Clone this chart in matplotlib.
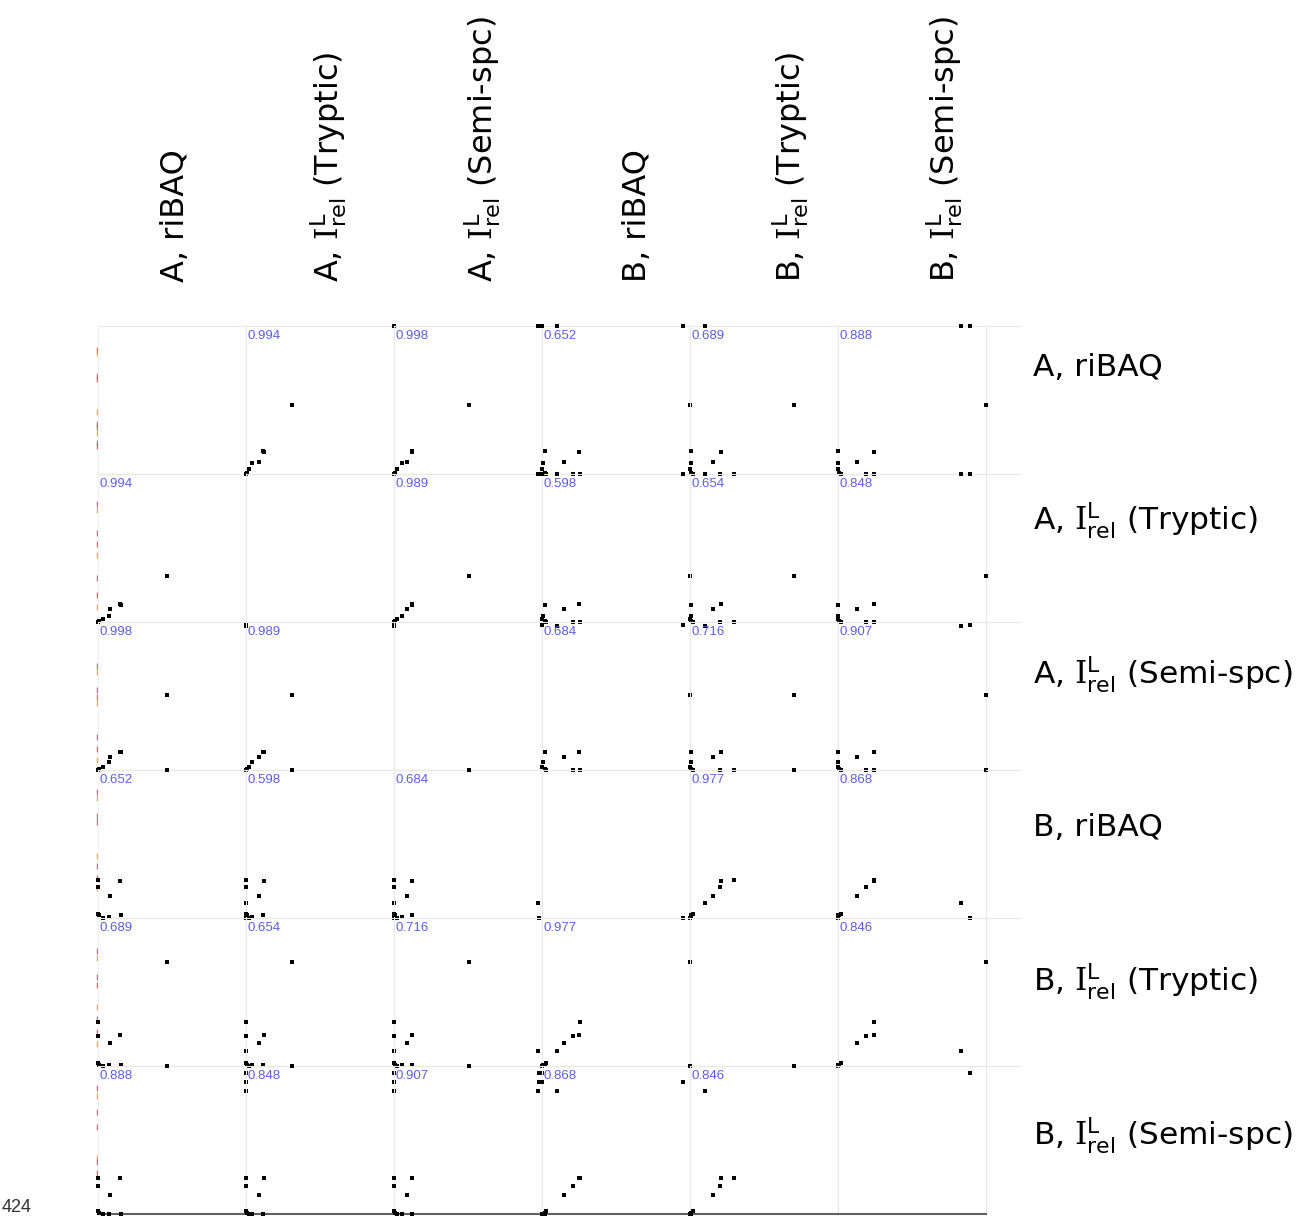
import numpy as np
import matplotlib
matplotlib.use('Agg')
import matplotlib.pyplot as plt
from matplotlib.lines import Line2D

plt.rcParams['mathtext.fontset'] = 'dejavuserif'

# nombres de las variables (filas y columnas de la matriz)
etiquetas = [
    r'A, riBAQ',
    r'A, $\mathrm{I}^{\mathsf{L}}_{\mathsf{rel}}$ (Tryptic)',
    r'A, $\mathrm{I}^{\mathsf{L}}_{\mathsf{rel}}$ (Semi-spc)',
    r'B, riBAQ',
    r'B, $\mathrm{I}^{\mathsf{L}}_{\mathsf{rel}}$ (Tryptic)',
    r'B, $\mathrm{I}^{\mathsf{L}}_{\mathsf{rel}}$ (Semi-spc)',
]

# valores normalizados (0-1) por proteina
a_ribaq = [1.00, 1.00, 0.466, 0.155, 0.074, 0.034, 0.010, 0.000, 0.080, 0.000, 0.150, 0.000]
a_tryp = [1.00, 1.00, 0.310, 0.115, 0.040, 0.020, 0.007, 0.000, 0.088, 0.000, 0.120, 0.000]
a_semi = [0.98, 0.97, 0.510, 0.120, 0.054, 0.020, 0.008, 0.000, 0.090, 0.000, 0.120, 0.000]
b_ribaq = [0.00, 0.10, 1.000, 0.020, 0.010, 0.000, 0.020, 0.030, 0.150, 0.210, 0.250, 0.260]
b_tryp = [-0.05, 0.10, 0.700, 0.010, 0.010, 0.000, 0.010, 0.020, 0.155, 0.200, 0.210, 0.300]
b_semi = [0.89, 0.83, 1.000, 0.000, 0.000, 0.000, 0.010, 0.020, 0.130, 0.190, 0.240, 0.240]

datos = [a_ribaq, a_tryp, a_semi, b_ribaq, b_tryp, b_semi]

# coeficientes de correlacion mostrados en cada celda
corr = [
    [None, 0.994, 0.998, 0.652, 0.689, 0.888],
    [0.994, None, 0.989, 0.598, 0.654, 0.848],
    [0.998, 0.989, None, 0.684, 0.716, 0.907],
    [0.652, 0.598, 0.684, None, 0.977, 0.868],
    [0.689, 0.654, 0.716, 0.977, None, 0.846],
    [0.888, 0.848, 0.907, 0.868, 0.846, None],
]

# marcas de color en el borde izquierdo (fraccion desde arriba de cada fila)
rug = [
    [0.16, 0.18, 0.34, 0.36, 0.58, 0.66, 0.68, 0.72, 0.79, 0.81],
    [0.20, 0.24, 0.40, 0.47, 0.55, 0.70, 0.82, 0.90],
    [0.30, 0.34, 0.46, 0.51, 0.55, 0.78, 0.86, 0.93],
    [0.15, 0.19, 0.31, 0.35, 0.58, 0.65, 0.73, 0.80],
    [0.22, 0.27, 0.40, 0.45, 0.60, 0.68, 0.77, 0.85],
    [0.15, 0.20, 0.31, 0.41, 0.62, 0.65, 0.72, 0.75],
]
rug_colores = ['#c0504d', '#e09a40', '#a05a7a']

W, H = 1314, 1218
fig = plt.figure(figsize=(W / 100, H / 100), dpi=100)

x0, y0, celda = 98, 326, 148
n = len(datos)

for i in range(n):
    for j in range(n):
        left = (x0 + celda * j) / W
        bottom = 1 - (y0 + celda * (i + 1)) / H
        ax = fig.add_axes([left, bottom, celda / W, celda / H])
        ax.set_facecolor('none')
        ax.set_xlim(0, 1)
        ax.set_ylim(0, 1)
        ax.set_xticks([])
        ax.set_yticks([])
        for s in ax.spines.values():
            s.set_color('#e8e8e8')
            s.set_linewidth(0.8)
        if i == n - 1:
            ax.spines['bottom'].set_color('#606060')
            ax.spines['bottom'].set_linewidth(1.5)
        if j == 0:
            ax.spines['left'].set_color('#f2f2f2')
            yy = [1 - f for f in rug[i]]
            for k, v in enumerate(yy):
                ax.plot([-0.005], [v], marker='|', ms=4, mew=1.0,
                        color=rug_colores[k % 3], alpha=0.85, clip_on=False)
        if i == j:
            continue
        ax.scatter(datos[j], datos[i], s=5, marker='s', color='black',
                   linewidths=0, clip_on=False, zorder=5)
        ax.text(0.012, 0.975, '{:.3f}'.format(corr[i][j]), transform=ax.transAxes,
                ha='left', va='top', fontsize=9.5, color='#5c5cf5',
                family='Liberation Sans', zorder=6)

# prolongacion de las lineas horizontales a la derecha
for i in range(n + 1):
    yl = 1 - (y0 + celda * i) / H
    col = '#606060' if i == n else '#e8e8e8'
    if i < n:
        fig.add_artist(Line2D([986 / W, 1020 / W], [yl, yl], color=col, lw=0.8))

# etiquetas de columnas (verticales) y filas
for j, lab in enumerate(etiquetas):
    fig.text((175 + 154 * j) / W, 1 - 282 / H, lab, rotation=90,
             ha='center', va='bottom', fontsize=23, family='DejaVu Sans')
for i, lab in enumerate(etiquetas):
    fig.text(1033 / W, 1 - (367 + 153.6 * i) / H, lab,
             ha='left', va='center', fontsize=22.5, family='DejaVu Sans')

fig.text(2 / W, 1 - 1208 / H, '424', ha='left', va='center',
         fontsize=13, color='#333333', family='Liberation Sans')

plt.savefig('out.png', dpi=100)
